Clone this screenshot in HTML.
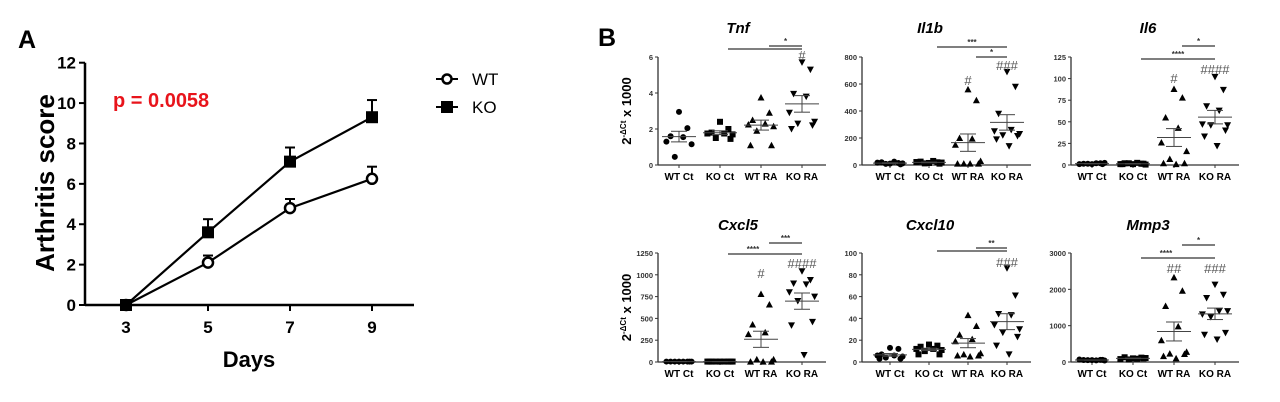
<!DOCTYPE html>
<html><head><meta charset="utf-8"><style>
html,body{margin:0;padding:0;background:#fff;width:1280px;height:402px;overflow:hidden}
svg{display:block;font-family:"Liberation Sans",Arial,sans-serif}
</style></head><body>
<svg id="fig" width="1280" height="402" viewBox="0 0 1280 402"></svg>
<script>
// ---------- Panel A data ----------
const daysA = [3, 5, 7, 9];
const wtMean = [0, 2.1, 4.8, 6.25];
const wtErr = [0, 0.35, 0.45, 0.6];
const koMean = [0, 3.6, 7.1, 9.3];
const koErr = [0, 0.65, 0.7, 0.85];
const yTicksA = [0, 2, 4, 6, 8, 10, 12];
const xTicksA = [3, 5, 7, 9];

// ---------- Panel B data ----------
const groups = ["WT Ct", "KO Ct", "WT RA", "KO RA"];
const tnfWTCt = [2.95, 2.05, 1.6, 1.55, 1.3, 1.15, 0.45];
const tnfKOCt = [2.4, 2.0, 1.8, 1.75, 1.75, 1.7, 1.5, 1.45];
const tnfWTRA = [3.75, 2.9, 2.5, 2.3, 2.25, 2.15, 1.9, 1.1, 1.1];
const tnfKORA = [5.7, 5.3, 3.95, 3.8, 2.9, 2.4, 2.3, 2.2, 2.0];
const il1bWTCt = [10, 15, 20, 25, 18, 12, 8, 5];
const il1bKOCt = [15, 20, 25, 30, 22, 18, 12, 10];
const il1bWTRA = [560, 480, 200, 195, 150, 30, 10, 10, 10, 10];
const il1bKORA = [690, 580, 380, 260, 250, 230, 220, 215, 190, 140];
const il6WTCt = [1, 2, 1.5, 2, 1, 2.5, 1.5, 1];
const il6KOCt = [1, 1.5, 2, 2.5, 1, 0.5, 2, 1.5, 1];
const il6WTRA = [88, 78, 55, 43, 26, 16, 7, 2, 2, 1];
const il6KORA = [102, 87, 68, 63, 47, 46, 46, 40, 33, 22];
const cxcl5WTCt = [5, 5, 5, 5, 5, 5, 5, 5];
const cxcl5KOCt = [5, 5, 5, 5, 5, 5, 5, 5, 5];
const cxcl5WTRA = [780, 660, 430, 340, 320, 30, 30, 5, 5, 5];
const cxcl5KORA = [1040, 940, 900, 890, 800, 750, 700, 460, 420, 80];
const cxcl10WTCt = [13, 12, 7, 6, 6, 5, 4, 3, 3];
const cxcl10KOCt = [16, 15, 14, 12, 12, 11, 10, 7, 7];
const cxcl10WTRA = [43, 33, 25, 21, 19, 8, 7, 6, 6, 5];
const cxcl10KORA = [86, 61, 44, 43, 34, 30, 27, 23, 15, 7];
const mmp3WTCt = [50, 60, 55, 45, 70, 40, 50, 60];
const mmp3KOCt = [100, 120, 130, 90, 80, 110, 70, 100];
const mmp3WTRA = [2330, 1960, 1540, 980, 600, 280, 230, 220, 160, 100];
const mmp3KORA = [2130, 1850, 1760, 1400, 1310, 1400, 1240, 800, 750, 620];
const tnfTicks = [0, 2, 4, 6];
const il1bTicks = [0, 200, 400, 600, 800];
const il6Ticks = [0, 25, 50, 75, 100, 125];
const cxcl5Ticks = [0, 250, 500, 750, 1000, 1250];
const cxcl10Ticks = [0, 20, 40, 60, 80, 100];
const mmp3Ticks = [0, 1000, 2000, 3000];

const NS = "http://www.w3.org/2000/svg";
const svg = document.getElementById("fig");
function el(tag, attrs, parent, text) {
  const e = document.createElementNS(NS, tag);
  for (const k in attrs) e.setAttribute(k, attrs[k]);
  if (text !== undefined) e.textContent = text;
  (parent || svg).appendChild(e);
  return e;
}

// ===== Panel A =====
const gA = el("g", {});


const axA = {x0: 85, x1: 414, y0: 305, yTop: 62.7};
const xA = d => 126 + (d - 3) * (372 - 126) / 6;
const yA = v => axA.y0 - v * (axA.y0 - axA.yTop) / 12;
let t = el("text", {x: 18, y: 48, "font-size": 25, "font-weight": "bold"}, gA, "A");


let l = el("line", {x1: axA.x0, y1: axA.yTop, x2: axA.x0, y2: axA.y0, stroke: "#000", "stroke-width": 2.5}, gA);


l = el("line", {x1: axA.x0, y1: axA.y0, x2: axA.x1, y2: axA.y0, stroke: "#000", "stroke-width": 2.5}, gA);


yTicksA.forEach(v => {
  el("line", {x1: axA.x0 - 6, x2: axA.x0, y1: yA(v), y2: yA(v), stroke: "#000", "stroke-width": 2}, gA);
  const tt = el("text", {x: 76, y: yA(v) + 6, "font-size": 17, "font-weight": "bold", "text-anchor": "end"}, gA, String(v));
  
  
});
xTicksA.forEach(v => {
  el("line", {x1: xA(v), x2: xA(v), y1: axA.y0, y2: axA.y0 + 6, stroke: "#000", "stroke-width": 2}, gA);
  const tt = el("text", {x: xA(v), y: 333, "font-size": 17, "font-weight": "bold", "text-anchor": "middle"}, gA, String(v));
  
  
});
t = el("text", {x: 249, y: 367, "font-size": 22, "font-weight": "bold", "text-anchor": "middle"}, gA, "Days");


t = el("text", {x: 0, y: 0, "font-size": 26, "font-weight": "bold", "text-anchor": "middle", transform: "translate(54,183) rotate(-90)"}, gA, "Arthritis score");


t = el("text", {x: 113, y: 107, "font-size": 20, "font-weight": "bold", fill: "#e8141b"}, gA, "p = 0.0058");


function seriesA(means, errs, kind) {
  const g = el("g", {}, gA);
  
  
  el("polyline", {points: daysA.map((d, i) => xA(d) + "," + yA(means[i])).join(" "), fill: "none", stroke: "#000", "stroke-width": 2.2}, g);
  daysA.forEach((d, i) => {
    if (errs[i] > 0) {
      el("line", {x1: xA(d), x2: xA(d), y1: yA(means[i]), y2: yA(means[i] + errs[i]), stroke: "#000", "stroke-width": 2}, g);
      el("line", {x1: xA(d) - 5, x2: xA(d) + 5, y1: yA(means[i] + errs[i]), y2: yA(means[i] + errs[i]), stroke: "#000", "stroke-width": 2}, g);
    }
    let m;
    if (kind === "ko") m = el("rect", {x: xA(d) - 6, y: yA(means[i]) - 6, width: 12, height: 12, fill: "#000"}, g);
    else m = el("circle", {cx: xA(d), cy: yA(means[i]), r: 5, fill: i === 0 ? "#000" : "#fff", stroke: "#000", "stroke-width": 2.5}, g);
    
    
  });
}
seriesA(koMean, koErr, "ko");
seriesA(wtMean, wtErr, "wt");
// legend
const lg = el("g", {}, gA);


let le = el("g", {}, lg);


el("line", {x1: 436, x2: 458, y1: 79, y2: 79, stroke: "#000", "stroke-width": 2}, le);
el("circle", {cx: 447, cy: 79, r: 4.5, fill: "#fff", stroke: "#000", "stroke-width": 2.5}, le);
el("text", {x: 472, y: 85, "font-size": 17}, le, "WT");
le = el("g", {}, lg);


el("line", {x1: 436, x2: 458, y1: 107, y2: 107, stroke: "#000", "stroke-width": 2}, le);
el("rect", {x: 441, y: 101, width: 12, height: 12, fill: "#000"}, le);
el("text", {x: 472, y: 113, "font-size": 17}, le, "KO");

// ===== Panel B =====
t = el("text", {x: 598, y: 46, "font-size": 25, "font-weight": "bold"}, svg, "B");



function mean(a) { return a.reduce((s, v) => s + v, 0) / a.length; }
function sem(a) { const m = mean(a); const sd = Math.sqrt(a.reduce((s, v) => s + (v - m) * (v - m), 0) / (a.length - 1)); return sd / Math.sqrt(a.length); }

// scatter slot pattern (fraction of half-width), layout only
const slotPattern = [0, 0.6, -0.6, 0.3, -0.9, 0.9, -0.3, 0.75, -0.75, 0.15];

function marker(g, kind, x, y) {
  let m;
  if (kind === 0) m = el("circle", {cx: x, cy: y, r: 3, fill: "#000"}, g);
  else if (kind === 1) m = el("rect", {x: x - 3, y: y - 3, width: 6, height: 6, fill: "#000"}, g);
  else if (kind === 2) m = el("polygon", {points: `${x},${y - 3.5} ${x - 3.5},${y + 3} ${x + 3.5},${y + 3}`, fill: "#000"}, g);
  else m = el("polygon", {points: `${x},${y + 3.5} ${x - 3.5},${y - 3} ${x + 3.5},${y - 3}`, fill: "#000"}, g);
  
  
}

function panelB(cfg) {
  const g = el("g", {});
  
  
  const maxT = cfg.ticks[cfg.ticks.length - 1];
  const y = v => cfg.y0 - v * (cfg.y0 - cfg.yTop) / maxT;
  const cx = i => cfg.cat0 + i * cfg.sp;
  let tt = el("text", {x: cfg.titleX, y: cfg.titleY, "font-size": 15, "font-weight": "bold", "font-style": "italic", "text-anchor": "middle"}, g, cfg.title);
  
  
  el("line", {x1: cfg.ax, x2: cfg.ax, y1: cfg.yTop, y2: cfg.y0, stroke: "#333", "stroke-width": 1.3}, g);
  el("line", {x1: cfg.ax, x2: cx(3) + 24, y1: cfg.y0, y2: cfg.y0, stroke: "#333", "stroke-width": 1.3}, g);
  cfg.ticks.forEach(v => {
    el("line", {x1: cfg.ax - 3, x2: cfg.ax, y1: y(v), y2: y(v), stroke: "#333", "stroke-width": 1}, g);
    const tl = el("text", {x: cfg.ax - 5, y: y(v) + 3, "font-size": 7.5, "font-weight": "bold", fill: "#333", "text-anchor": "end"}, g, String(v));
    
    
  });
  groups.forEach((gn, i) => {
    el("line", {x1: cx(i), x2: cx(i), y1: cfg.y0, y2: cfg.y0 + 3, stroke: "#333", "stroke-width": 1}, g);
    const tl = el("text", {x: cx(i), y: cfg.y0 + 15, "font-size": 10, "font-weight": "bold", "text-anchor": "middle"}, g, gn);
    
    
    const vals = cfg.data[i];
    vals.forEach((v, j) => {
      const off = slotPattern[j % slotPattern.length] * 14;
      marker(g, i, cx(i) + off, y(v));
    });
    const m = mean(vals), s = sem(vals);
    const mg = el("g", {}, g);
    
    
    el("line", {x1: cx(i) - 17, x2: cx(i) + 17, y1: y(m), y2: y(m), stroke: "#444", "stroke-width": 1}, mg);
    el("line", {x1: cx(i), x2: cx(i), y1: y(m - s), y2: y(m + s), stroke: "#444", "stroke-width": 1}, mg);
    el("line", {x1: cx(i) - 8, x2: cx(i) + 8, y1: y(m + s), y2: y(m + s), stroke: "#444", "stroke-width": 1}, mg);
    el("line", {x1: cx(i) - 8, x2: cx(i) + 8, y1: y(m - s), y2: y(m - s), stroke: "#444", "stroke-width": 1}, mg);
  });
  cfg.brackets.forEach(b => {
    const bg = el("g", {}, g);
    
    
    el("line", {x1: cx(b[0]) + 8, x2: cx(b[1]), y1: b[2], y2: b[2], stroke: "#333", "stroke-width": 1.2}, bg);
    if (b[3]) el("text", {x: (cx(b[0]) + 8 + cx(b[1])) / 2 + (b[4] || 0), y: b[2] - 2, "font-size": 8, "font-weight": "bold", fill: "#333", "text-anchor": "middle"}, bg, b[3]);
  });
  cfg.hashes.forEach(h => {
    const ht = el("text", {x: cx(h[0]), y: h[1] + 5, "font-size": 13, fill: "#555", "text-anchor": "middle"}, g, h[2]);
    
    
  });
  if (cfg.ytitle) {
    const yt = el("text", {transform: `translate(${cfg.ax - 27},${(cfg.y0 + cfg.yTop) / 2}) rotate(-90)`, "font-size": 13, "font-weight": "bold", "text-anchor": "middle"}, g);
    
    
    el("tspan", {}, yt, "2");
    el("tspan", {dy: -5, "font-size": 8}, yt, "-\u0394Ct");
    el("tspan", {dy: 5}, yt, " x 1000");
  }
}

const C1 = {ax: 658, cat0: 679, sp: 41, titleX: 738};
const C2 = {ax: 862, cat0: 890, sp: 39, titleX: 930};
const C3 = {ax: 1071, cat0: 1092, sp: 41, titleX: 1148};
const R1 = {y0: 165, yTop: 57, titleY: 33};
const R2 = {y0: 362, yTop: 253, titleY: 230};

panelB(Object.assign({name: "tnf", title: "Tnf", ticks: tnfTicks, data: [tnfWTCt, tnfKOCt, tnfWTRA, tnfKORA], ytitle: true,
  brackets: [[2, 3, 46, "*", 0], [1, 3, 49, ""]], hashes: [[3, 55, "#"]]}, C1, R1));
panelB(Object.assign({name: "il1b", title: "Il1b", ticks: il1bTicks, data: [il1bWTCt, il1bKOCt, il1bWTRA, il1bKORA],
  brackets: [[1, 3, 47, "***"], [2, 3, 57, "*"]], hashes: [[2, 80, "#"], [3, 65, "###"]]}, C2, R1));
panelB(Object.assign({name: "il6", title: "Il6", ticks: il6Ticks, data: [il6WTCt, il6KOCt, il6WTRA, il6KORA],
  brackets: [[2, 3, 46, "*"], [1, 3, 59, "****"]], hashes: [[2, 78, "#"], [3, 69, "####"]]}, C3, R1));
panelB(Object.assign({name: "cxcl5", title: "Cxcl5", ticks: cxcl5Ticks, data: [cxcl5WTCt, cxcl5KOCt, cxcl5WTRA, cxcl5KORA], ytitle: true,
  brackets: [[2, 3, 243, "***"], [1, 3, 254, "****", -12]], hashes: [[2, 273, "#"], [3, 263, "####"]]}, C1, R2));
panelB(Object.assign({name: "cxcl10", title: "Cxcl10", ticks: cxcl10Ticks, data: [cxcl10WTCt, cxcl10KOCt, cxcl10WTRA, cxcl10KORA],
  brackets: [[2, 3, 248, "**"], [1, 3, 251, ""]], hashes: [[3, 262, "###"]]}, C2, R2));
panelB(Object.assign({name: "mmp3", title: "Mmp3", ticks: mmp3Ticks, data: [mmp3WTCt, mmp3KOCt, mmp3WTRA, mmp3KORA],
  brackets: [[2, 3, 245, "*"], [1, 3, 258, "****", -12]], hashes: [[2, 268, "##"], [3, 268, "###"]]}, C3, R2));
</script>
</body></html>
